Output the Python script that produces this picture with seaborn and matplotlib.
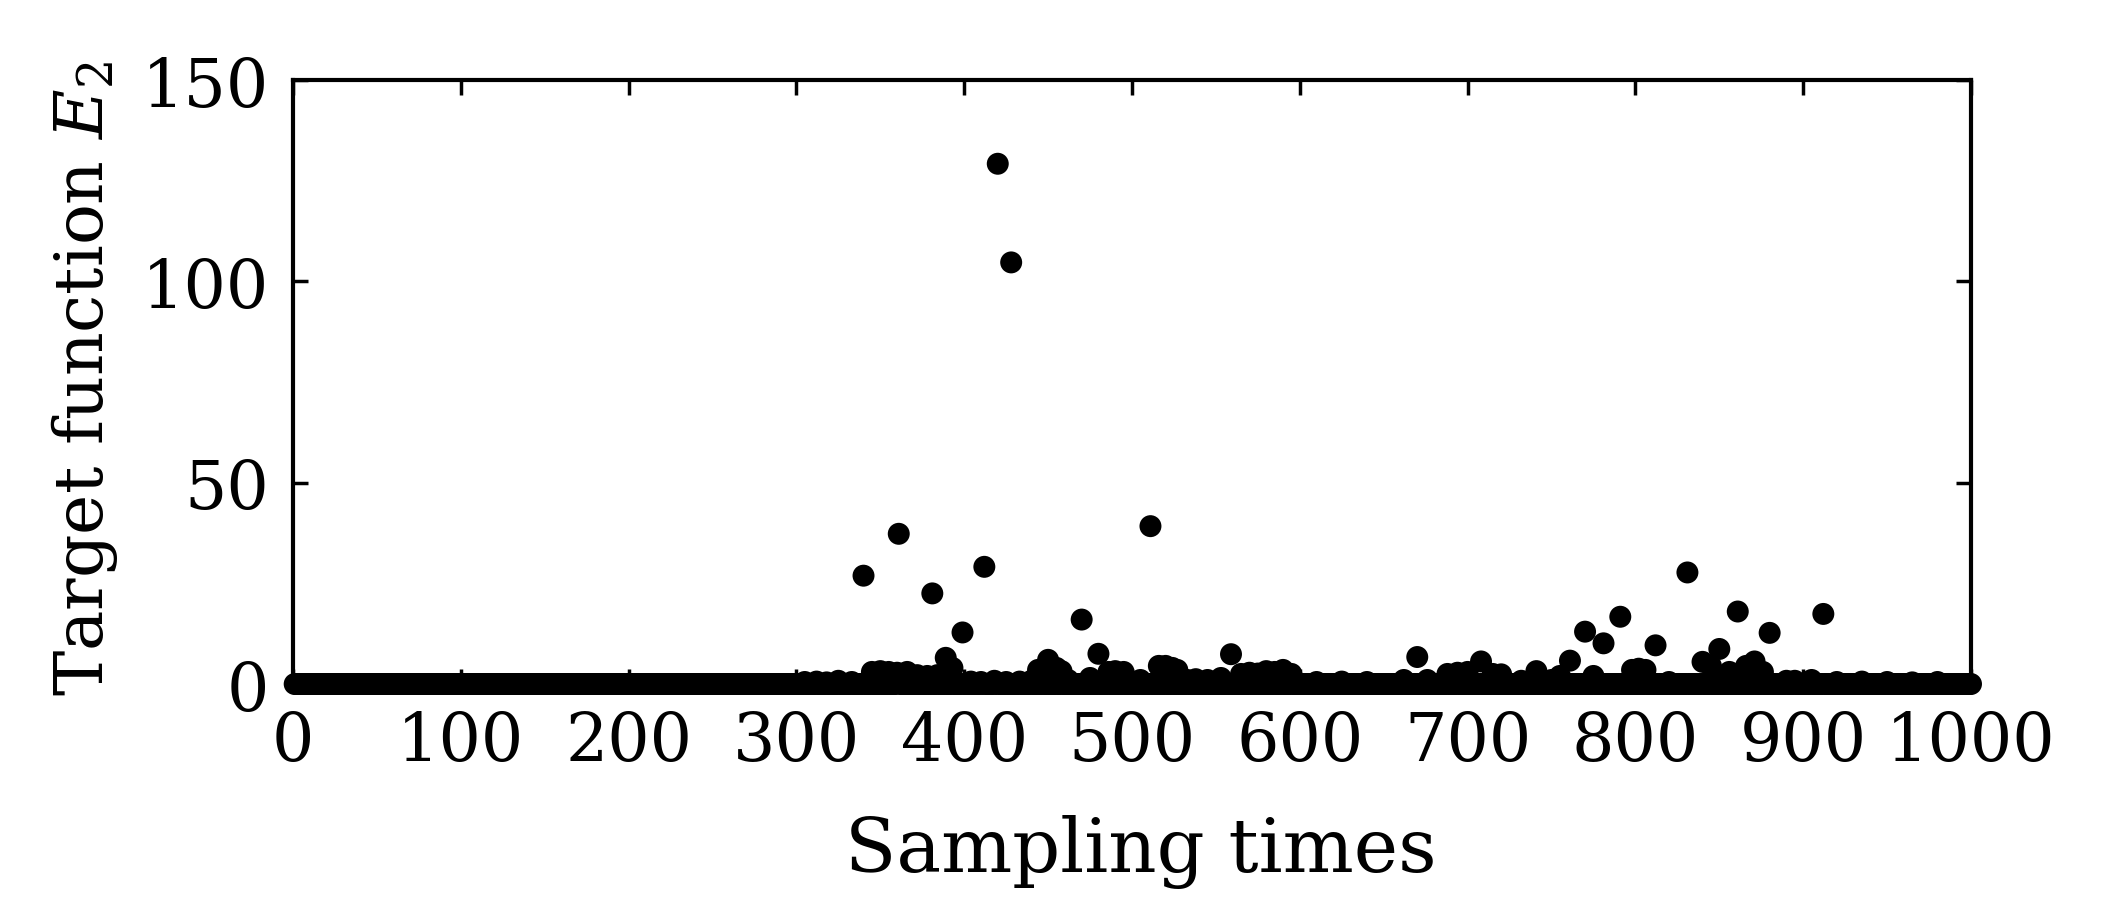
import numpy as np
import pandas as pd
import matplotlib
matplotlib.use("Agg")
import matplotlib.pyplot as plt
import seaborn as sns

# ---- data ----
n_samples = 1000
outlier_times = [340, 361, 381, 389, 399, 412, 420, 428, 450, 470, 480, 511, 559,
                 670, 708, 761, 770, 781, 791, 812, 831, 840, 850, 861, 871, 880, 912]
outlier_values = [26.9, 37.3, 22.5, 6.5, 12.8, 29.1, 129.2, 104.7, 6.0, 16.0, 7.5, 39.2, 7.4,
                  6.7, 5.6, 5.8, 13.0, 10.1, 16.7, 9.6, 27.7, 5.5, 8.7, 18.0, 5.6, 12.7, 17.4]
low_times = [305, 312, 318, 325, 333, 345, 350, 355, 360, 366, 372, 378, 384, 393, 404, 410,
             418, 425, 433, 440, 444, 447, 455, 458, 462, 475, 486, 490, 495, 505, 516, 520,
             524, 527, 533, 538, 545, 553, 565, 570, 575, 580, 585, 590, 595, 610, 625, 640,
             662, 676, 688, 694, 700, 715, 720, 732, 741, 750, 755, 775, 798, 802, 806, 820,
             845, 856, 866, 876, 890, 895, 905, 920, 935, 950, 965, 980]
low_values = [0.5, 0.6, 0.4, 0.8, 0.5, 3.0, 3.2, 3.0, 2.8, 3.0, 2.2, 2.0, 2.2, 4.0, 0.6, 0.5,
              0.8, 0.5, 0.6, 0.8, 3.5, 3.8, 4.0, 3.2, 1.0, 1.5, 3.0, 3.2, 3.0, 1.0, 4.5, 4.5,
              4.0, 3.5, 1.0, 1.2, 1.0, 1.5, 2.5, 2.8, 2.6, 3.2, 3.0, 3.5, 2.5, 0.5, 0.6, 0.5,
              1.0, 1.0, 2.5, 2.8, 3.0, 2.5, 2.4, 0.8, 3.2, 1.0, 2.0, 2.0, 3.5, 3.8, 3.5, 0.5,
              4.5, 3.0, 4.5, 3.0, 0.8, 0.8, 1.0, 0.5, 0.6, 0.5, 0.4, 0.5]
x_ticks = [0, 100, 200, 300, 400, 500, 600, 700, 800, 900, 1000]
y_ticks = [0, 50, 100, 150]

sample_times = np.arange(1, n_samples + 1)
values = np.zeros(n_samples)
values[np.array(low_times) - 1] = low_values
values[np.array(outlier_times) - 1] = outlier_values
df = pd.DataFrame({"time": sample_times, "value": values})

# ---- style ----
sns.set_style("ticks")
plt.rcParams["font.family"] = ["DejaVu Serif"]
plt.rcParams["mathtext.fontset"] = "dejavuserif"
plt.rcParams["text.color"] = "black"
plt.rcParams["axes.labelcolor"] = "black"

fig = plt.figure(figsize=(21.13, 9.04), dpi=100)
ax = fig.add_axes([293 / 2113, 1 - 685 / 904, (1971 - 293) / 2113, (685 - 81) / 904])

sns.scatterplot(data=df, x="time", y="value", color="black", s=250, linewidth=0,
                edgecolor="none", ax=ax, clip_on=False, zorder=3, legend=False)

ax.set_xlim(0, 1000)
ax.set_ylim(0, 150)
ax.set_xticks(x_ticks)
ax.set_yticks(y_ticks)
for sp in ax.spines.values():
    sp.set_visible(True)
    sp.set_linewidth(3)
    sp.set_color("black")
ax.tick_params(axis="both", which="major", direction="in", length=11, width=2.5,
               top=True, right=True, labelsize=48, colors="black")
ax.tick_params(axis="x", pad=18)
ax.tick_params(axis="y", pad=17)

ax.set_xlabel("Sampling times", fontsize=54, color="black")
ax.set_ylabel(r"Target function $E_2$", fontsize=49, color="black")
ax.xaxis.set_label_coords(0.505, -0.215)
ax.yaxis.set_label_coords(-0.103, 0.507)

fig.savefig("out.png", dpi=100, facecolor="white")
